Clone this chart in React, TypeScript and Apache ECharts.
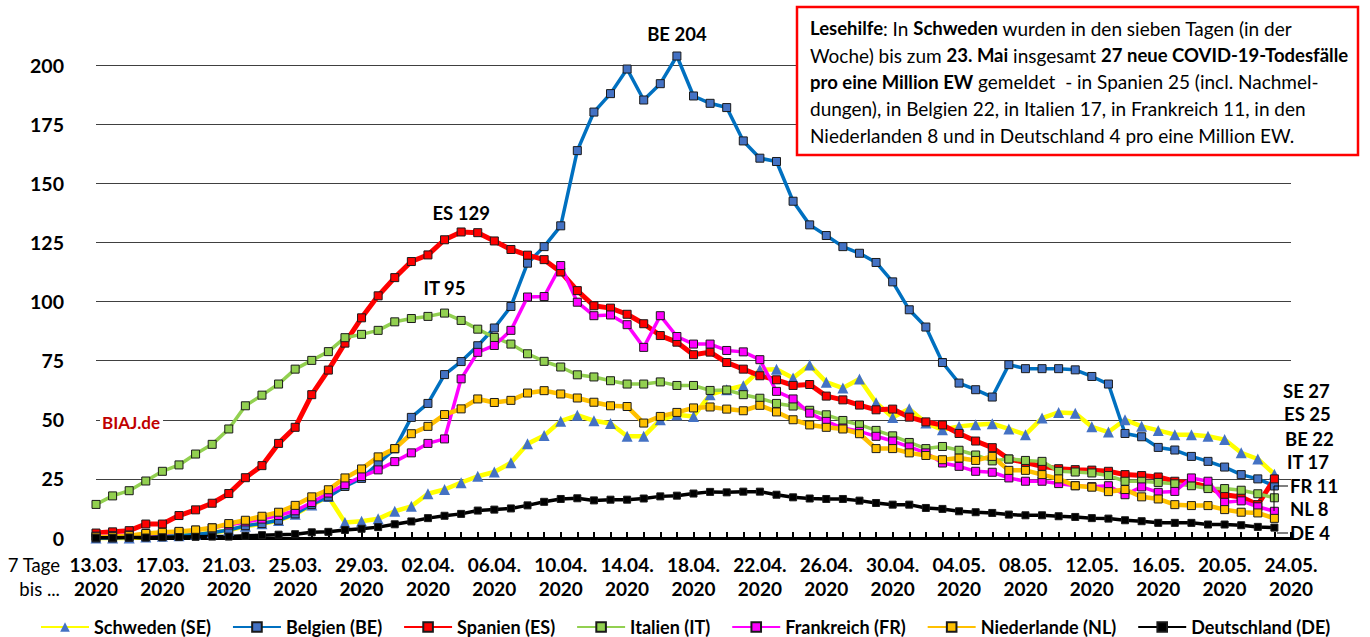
import React, { useEffect, useRef } from "react";
import * as echarts from "echarts";

const year = "2020";
const dates = [
  "13.03.", "14.03.", "15.03.", "16.03.", "17.03.", "18.03.", "19.03.", "20.03.", "21.03.", "22.03.",
  "23.03.", "24.03.", "25.03.", "26.03.", "27.03.", "28.03.", "29.03.", "30.03.", "31.03.",
  "01.04.", "02.04.", "03.04.", "04.04.", "05.04.", "06.04.", "07.04.", "08.04.", "09.04.", "10.04.",
  "11.04.", "12.04.", "13.04.", "14.04.", "15.04.", "16.04.", "17.04.", "18.04.", "19.04.", "20.04.",
  "21.04.", "22.04.", "23.04.", "24.04.", "25.04.", "26.04.", "27.04.", "28.04.", "29.04.", "30.04.",
  "01.05.", "02.05.", "03.05.", "04.05.", "05.05.", "06.05.", "07.05.", "08.05.", "09.05.", "10.05.",
  "11.05.", "12.05.", "13.05.", "14.05.", "15.05.", "16.05.", "17.05.", "18.05.", "19.05.", "20.05.",
  "21.05.", "22.05.", "23.05.", "24.05.",
];

const seValues = [0, 0, 0, 0.4, 0.7, 1.0, 1.5, 2.2, 3.3, 5.0, 6.0, 7.4, 10.0, 14.0, 17.5,
  6.6, 7.1, 8.1, 11.3, 13.4, 18.7, 20.5, 23.4, 26.1, 27.9,
  31.8, 39.8, 43.3, 49.4, 51.9, 49.6, 48.4, 43.0, 43.0, 50.0,
  52.1, 51.4, 60.6, 62.7, 64.4, 71.1, 71.4, 67.7, 73.2, 65.9,
  63.4, 67.2, 57.2, 51.0, 54.6, 48.6, 45.8, 47.2, 47.9, 48.3,
  46.1, 43.7, 50.7, 53.1, 52.8, 47.0, 44.8, 50.0, 47.2, 45.5,
  43.7, 43.7, 43.0, 41.6, 36.0, 33.4, 27.0];
const beValues = [0, 0, 0.3, 0.5, 0.8, 1.0, 1.5, 2.2, 3.4, 5.2,
  6.1, 7.5, 10.2, 14.2, 17.4, 21.8, 25.2, 31.5, 37.7, 51.0,
  56.9, 69.1, 74.6, 81.3, 88.8, 97.9, 116.2, 123.2, 132.0, 163.8,
  180.1, 187.9, 198.3, 185.2, 192.1, 203.8, 186.9, 183.8, 182.0, 167.9,
  160.6, 159.2, 142.4, 132.4, 127.9, 123.2, 120.4, 116.5, 108.3, 96.5,
  89.2, 74.2, 65.5, 62.7, 59.6, 73.3, 71.6, 71.6, 71.6, 71.1,
  68.3, 65.1, 44.2, 42.8, 38.3, 37.2, 34.5, 32.4, 30.0, 26.8,
  25.0, 22.0];
const esValues = [2.1, 2.6, 3.1, 5.9, 5.9, 9.5, 11.9, 14.7, 18.8, 25.5,
  30.6, 40.0, 46.8, 60.6, 71.0, 82.4, 93.1, 102.4, 110.1, 116.9,
  119.7, 126.1, 129.4, 129.1, 125.6, 122.0, 119.6, 117.7, 112.5, 104.6,
  98.2, 97.2, 94.6, 90.6, 85.6, 82.8, 77.5, 78.6, 74.2, 71.4,
  68.6, 66.9, 64.5, 64.9, 60.0, 58.4, 56.2, 54.2, 54.5, 51.1,
  49.1, 47.8, 44.2, 41.0, 38.2, 33.4, 31.9, 30.3, 29.3, 28.9,
  28.7, 28.2, 26.8, 26.4, 25.8, 24.0, 23.3, 21.6, 18.3, 17.3,
  14.1, 25.0];
const itValues = [14.2, 17.8, 20.0, 24.1, 28.2, 30.9, 35.5, 39.6, 46.1, 55.9,
  60.4, 65.1, 71.4, 75.1, 78.8, 84.7, 86.1, 87.8, 91.4, 92.8,
  93.7, 95.1, 92.0, 88.3, 84.8, 82.0, 77.9, 74.7, 72.3, 69.0,
  68.1, 66.5, 65.1, 65.1, 66.0, 64.5, 64.5, 62.4, 62.6, 60.6,
  59.1, 56.9, 55.8, 54.0, 52.1, 49.7, 47.9, 45.5, 43.2, 40.4,
  37.8, 38.7, 37.1, 35.1, 32.6, 33.4, 32.8, 32.4, 28.2, 27.9,
  27.5, 26.4, 24.0, 24.0, 23.5, 22.9, 22.1, 20.9, 20.9, 20.2,
  18.7, 17.0];
const frValues = [0.8, 1.0, 1.3, 1.6, 2.0, 2.6, 3.3, 4.3, 5.5, 6.8,
  8.0, 9.5, 11.5, 15.0, 19.0, 22.6, 26.0, 28.8, 32.3, 36.0,
  40.0, 41.9, 67.3, 78.5, 81.4, 87.8, 101.9, 102.1, 115.2, 99.7,
  94.0, 94.3, 90.2, 80.6, 94.0, 85.2, 82.0, 82.0, 79.3, 78.7,
  75.4, 62.0, 58.8, 52.8, 49.3, 46.5, 45.1, 43.0, 41.0, 38.5,
  36.0, 31.7, 30.3, 28.2, 27.8, 25.4, 24.0, 24.0, 23.0, 22.1,
  21.7, 22.1, 18.3, 21.6, 19.3, 19.7, 25.4, 24.0, 15.1, 15.7,
  13.2, 11.3];
const nlValues = [0.5, 0.6, 1.0, 1.9, 2.4, 2.8, 3.4, 4.3, 6.1, 7.5,
  9.2, 10.9, 13.8, 17.4, 20.4, 25.4, 29.2, 34.3, 37.8, 44.1,
  47.2, 52.2, 54.6, 58.8, 57.3, 58.2, 61.3, 62.3, 60.9, 59.2,
  57.4, 55.9, 55.6, 48.6, 51.4, 53.1, 55.0, 55.4, 54.5, 53.8,
  56.1, 53.3, 50.0, 47.8, 46.8, 46.1, 44.1, 37.8, 37.8, 36.0,
  34.9, 33.1, 33.8, 32.8, 34.5, 28.6, 28.6, 26.8, 25.0, 22.1,
  21.5, 19.6, 20.5, 17.4, 16.5, 14.1, 13.7, 13.7, 12.0, 10.9,
  10.6, 8.3];
const deValues = [0.1, 0.1, 0.2, 0.2, 0.3, 0.4, 0.5, 0.6, 0.6, 0.9,
  1.2, 1.4, 1.6, 2.4, 2.6, 3.4, 3.9, 4.6, 5.8, 7.0,
  8.4, 9.4, 10.2, 11.6, 12.0, 12.5, 13.8, 15.3, 16.5, 16.8,
  15.9, 16.2, 16.2, 16.7, 17.6, 17.9, 18.8, 19.5, 19.3, 19.6,
  19.6, 18.3, 17.2, 16.7, 16.5, 16.5, 15.8, 14.8, 14.1, 14.1,
  12.7, 12.3, 11.3, 10.9, 10.6, 9.9, 9.6, 9.6, 9.2, 8.9,
  8.4, 8.2, 7.5, 7.1, 6.4, 6.4, 6.4, 5.7, 5.7, 5.4,
  4.7, 4.4];

const seriesNames = ["Schweden (SE)", "Belgien (BE)", "Spanien (ES)", "Italien (IT)", "Frankreich (FR)", "Niederlande (NL)", "Deutschland (DE)"];
const seriesCodes = ["SE", "BE", "ES", "IT", "FR", "NL", "DE"];
const seriesValues = [seValues, beValues, esValues, itValues, frValues, nlValues, deValues];
const lineColors = ["#FFFF00", "#0070C0", "#FF0000", "#92D050", "#FF00FF", "#FFC000", "#000000"];
const markerColors = ["#4472C4", "#4472C4", "#FF0000", "#92D050", "#FF00FF", "#FFC000", "#000000"];
const lineWidths = [4.5, 3.5, 5, 3.5, 3.5, 4.5, 3.5];
const peakCodes = ["BE", "ES", "IT"];
const peakDistances: Record<string, number> = { BE: 8, ES: 5, IT: 11 };
const endLabelOrder = ["SE", "ES", "BE", "IT", "FR", "NL", "DE"];

const FONT = "Lato, 'Open Sans', sans-serif";

export default function App() {
  const ref = useRef<HTMLDivElement>(null);
  useEffect(() => {
    const chart = echarts.init(ref.current!, null, { renderer: "svg" });

    const series = seriesValues.map((vals, si) => {
      const code = seriesCodes[si];
      let maxIdx = 0;
      vals.forEach((v, i) => { if (v > vals[maxIdx]) maxIdx = i; });
      const data: any[] = vals.map((v, i) => {
        if (peakCodes.includes(code) && i === maxIdx) {
          return {
            value: v,
            label: {
              show: true,
              position: "top",
              distance: peakDistances[code],
              formatter: code + " " + Math.round(v),
              fontFamily: FONT,
              fontWeight: "bold",
              fontSize: 18.5,
              color: "#000",
            },
          };
        }
        return v;
      });
      data.push(null);
      return {
        name: seriesNames[si],
        type: "line",
        data,
        clip: false,
        symbol: code === "SE" ? "triangle" : "rect",
        symbolSize: code === "SE" ? 11 : code === "DE" ? 7 : 8,
        showAllSymbol: true,
        lineStyle: { color: lineColors[si], width: lineWidths[si] },
        itemStyle: {
          color: markerColors[si],
          borderColor: code === "SE" ? markerColors[si] : "#1a1a1a",
          borderWidth: code === "SE" ? 0 : 1,
        },
        emphasis: { disabled: true },
      };
    });

    const endLabelPos: Record<string, [number, number]> = {
      SE: [1283, 391], ES: [1284, 414], BE: [1285, 439], IT: [1287, 462],
      FR: [1290, 486], NL: [1290, 509], DE: [1290, 533],
    };
    const endLabels = endLabelOrder.map((code) => {
      const vals = seriesValues[seriesCodes.indexOf(code)];
      const last = vals[vals.length - 1];
      return {
        type: "text",
        x: endLabelPos[code][0],
        y: endLabelPos[code][1],
        style: {
          text: code + " " + Math.round(last),
          fontFamily: FONT,
          fontWeight: "bold",
          fontSize: 18.5,
          fill: "#000",
          verticalAlign: "middle",
          align: "left",
        },
        z: 20,
      };
    });

    const FS = 19;
    const rich = {
      b: { fontFamily: FONT, fontWeight: "bold", fontSize: 18.5, lineHeight: 26.7, fill: "#000" },
      n: { fontFamily: FONT, fontWeight: "normal", fontSize: FS, lineHeight: 26.7, fill: "#000" },
    };
    const helpText =
      "{b|Lesehilfe}{n|: In }{b|Schweden}{n| wurden in den sieben Tagen (in der}\n" +
      "{n|Woche) bis zum }{b|23. Mai}{n| insgesamt }{b|27 neue COVID-19-Todesfälle}\n" +
      "{b|pro eine Million EW}{n| gemeldet  - in Spanien 25 (incl. Nachmel-}\n" +
      "{n|dungen), in Belgien 22, in Italien 17, in Frankreich 11, in den}\n" +
      "{n|Niederlanden 8 und in Deutschland 4 pro eine Million EW.}";

    const option: any = {
      animation: false,
      backgroundColor: "#fff",
      grid: { left: 96, right: 79, top: 65, bottom: 99, containLabel: false, outerBoundsMode: "none" },
      legend: {
        data: seriesNames,
        left: 40,
        top: 618,
        padding: 0,
        itemWidth: 48,
        itemHeight: 12,
        itemGap: 21,
        textStyle: { fontFamily: FONT, fontWeight: "bold", fontSize: 18, color: "#000" },
      },
      xAxis: {
        type: "category",
        data: dates,
        boundaryGap: false,
        axisLine: { lineStyle: { color: "#000", width: 3 } },
        axisTick: { show: true, inside: true, length: 6, interval: 0, lineStyle: { color: "#000", width: 2 } },
        axisLabel: {
          interval: 3,
          formatter: (v: string) => v + "\n" + year,
          fontFamily: FONT,
          fontWeight: "bold",
          fontSize: 19,
          lineHeight: 24,
          color: "#000",
          margin: 14,
        },
        splitLine: { show: false },
      },
      yAxis: {
        type: "value",
        min: 0,
        max: 200,
        interval: 25,
        axisLine: { show: false },
        axisTick: { show: false },
        axisLabel: { fontFamily: FONT, fontWeight: "bold", fontSize: 19.5, color: "#000", margin: 32 },
        splitLine: { lineStyle: { color: "#404040", width: 1 } },
      },
      series,
      graphic: [
        {
          type: "rect",
          shape: { x: 797, y: 7, width: 561, height: 148 },
          style: { fill: "#fff", stroke: "#FF0000", lineWidth: 2.5 },
          z: 10,
        },
        {
          type: "text",
          x: 810,
          y: 15,
          style: { text: helpText, rich, fontFamily: FONT, fontSize: FS, lineHeight: 26.7, fill: "#000" },
          z: 11,
        },
        {
          type: "text",
          x: 100,
          y: 422,
          style: {
            text: "BIAJ.de",
            fontFamily: FONT,
            fontWeight: "bold",
            fontSize: 17,
            fill: "#C00000",
            verticalAlign: "middle",
            backgroundColor: "#fff",
            padding: [1, 3, 1, 2],
          },
          z: 5,
        },
        {
          type: "text",
          x: 60,
          y: 553,
          style: {
            text: "7 Tage\nbis ...",
            fontFamily: FONT,
            fontSize: 18.5,
            lineHeight: 24,
            fill: "#000",
            align: "right",
            verticalAlign: "top",
          },
        },
        { type: "line", shape: { x1: 1274, y1: 486, x2: 1288, y2: 486 }, style: { stroke: "#000", lineWidth: 1 }, z: 20 },
        { type: "line", shape: { x1: 1274, y1: 486, x2: 1274, y2: 511 }, style: { stroke: "#000", lineWidth: 1 }, z: 20 },
        { type: "line", shape: { x1: 1277, y1: 533, x2: 1288, y2: 533 }, style: { stroke: "#000", lineWidth: 1 }, z: 20 },
        ...endLabels,
      ],
    };
    chart.setOption(option);
    return () => chart.dispose();
  }, []);
  return (
    <div
      ref={ref}
      style={{ position: "fixed", left: 0, top: 0, width: 1370, height: 637, background: "#fff" }}
    />
  );
}
